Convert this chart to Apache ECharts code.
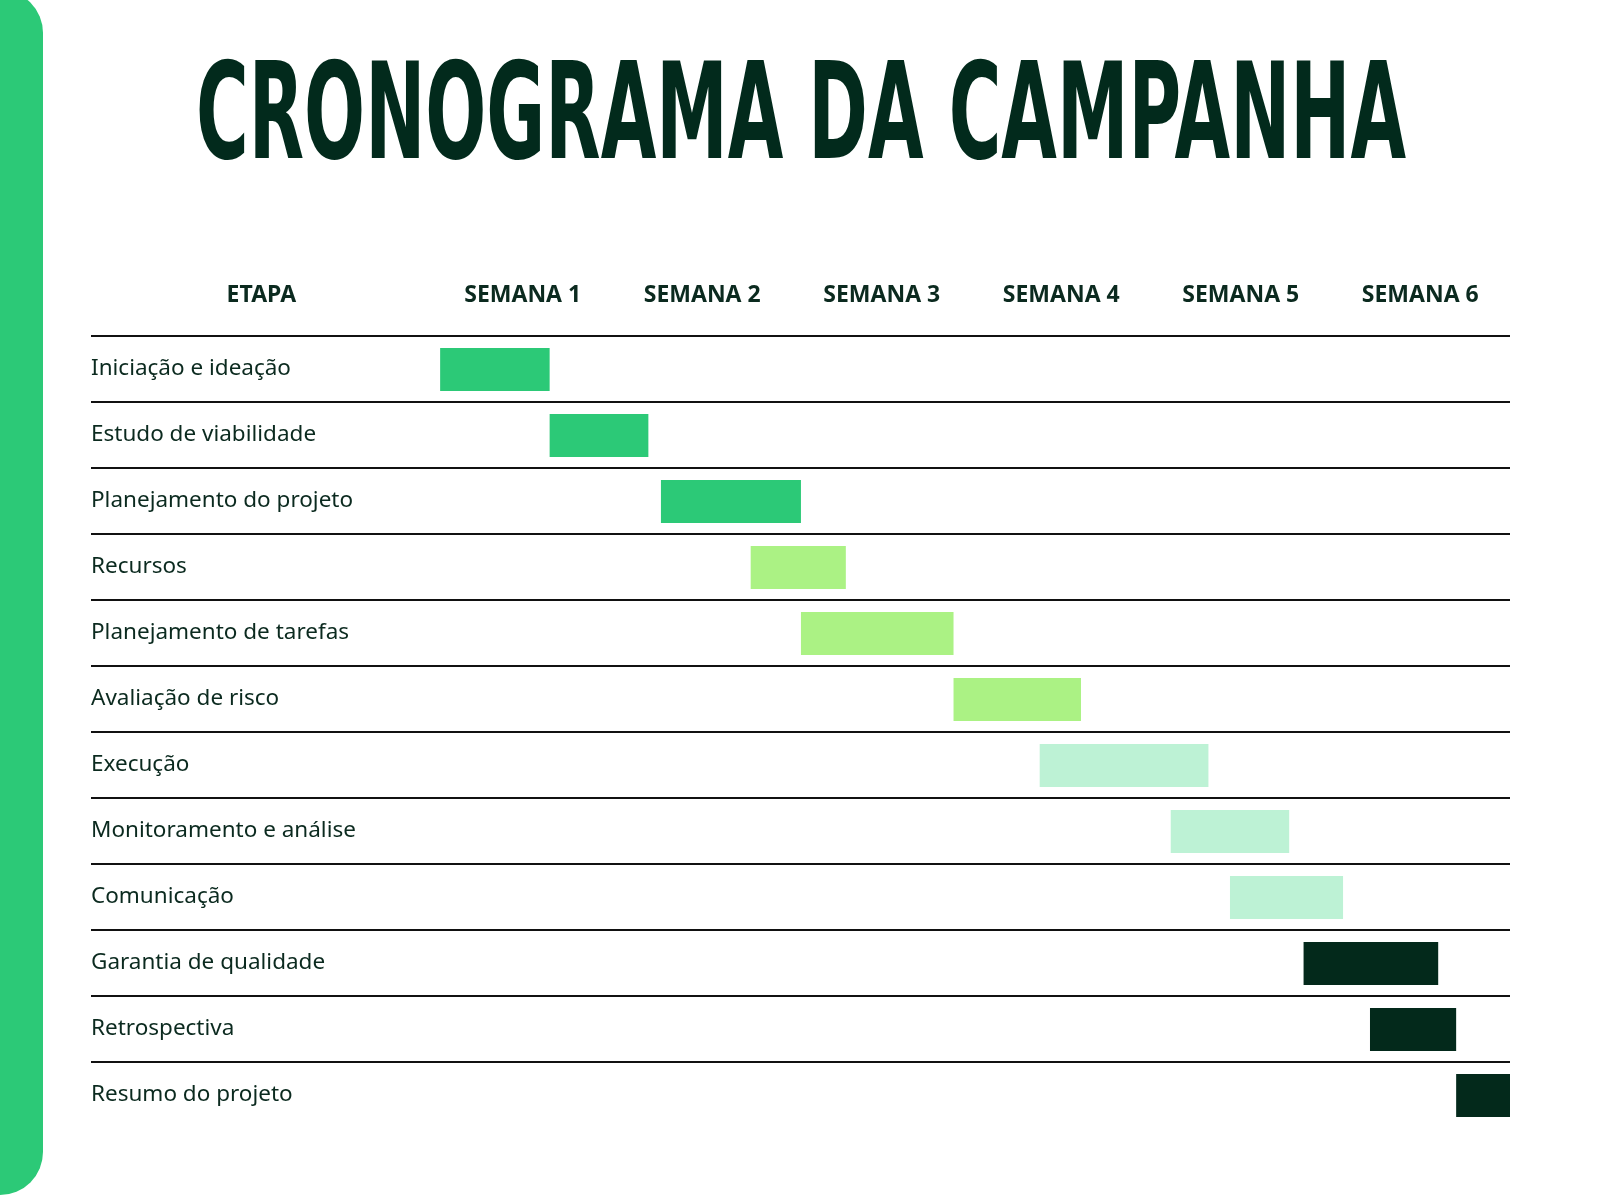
<!DOCTYPE html>
<html><head><meta charset="utf-8">
<script src="https://cdn.jsdelivr.net/npm/echarts@6/dist/echarts.min.js"></script>
<style>html,body{margin:0;background:#fff}#c{width:1600px;height:1200px}</style>
</head><body><div id="c"></div>
<script>
const etapas = ['Iniciação e ideação','Estudo de viabilidade','Planejamento do projeto','Recursos','Planejamento de tarefas','Avaliação de risco','Execução','Monitoramento e análise','Comunicação','Garantia de qualidade','Retrospectiva','Resumo do projeto']
// start / end in weeks (0 = start of week 1)
const inicio = [0.04,0.65,1.27,1.77,2.05,2.90,3.38,4.11,4.44,4.85,5.22,5.70]
const fim    = [0.65,1.20,2.05,2.30,2.90,3.61,4.32,4.77,5.07,5.60,5.70,6.00]
const grupo  = [0,0,0,1,1,1,2,2,2,3,3,3]
const cores  = ['#2cc977','#abf284','#bdf2d5','#03291b']
const semanas = ['SEMANA 1','SEMANA 2','SEMANA 3','SEMANA 4','SEMANA 5','SEMANA 6']
const xMin = -1.905

const chart = echarts.init(document.getElementById('c'))
const data = etapas.map((e,i) => [i, inicio[i], fim[i], grupo[i]])
const txt = '#0b2a1f'

chart.setOption({
  animation: false,
  grid: {left: 91, right: 90, top: 336, bottom: 72},
  xAxis: {type: 'value', min: xMin, max: 6, show: false},
  yAxis: {type: 'category', data: etapas, inverse: true, show: false},
  series: [{
    type: 'custom',
    data: data,
    encode: {x: [1,2], y: 0},
    renderItem: (params, api) => {
      const row = api.value(0)
      const c = api.coord([api.value(1), row])
      const e = api.coord([api.value(2), row])
      const h = api.size([0,1])[1]
      const left = api.coord([xMin, row])
      const right = api.coord([6, row])
      const top = c[1] - h/2
      const ch = [
        {type:'line', shape:{x1:left[0], y1:top, x2:right[0], y2:top}, style:{stroke:'#111', lineWidth:2}},
        {type:'rect', shape:{x:c[0], y:c[1]-21, width:e[0]-c[0], height:43}, style:{fill:cores[api.value(3)]}},
        {type:'text', x:left[0], y:c[1], style:{text:etapas[row], fill:txt, font:'22.5px "Noto Sans"', verticalAlign:'middle'}}
      ]
      return {type:'group', children:ch}
    }
  }]
})

const gy = 295
const hdr = [{type:'text', x: chart.convertToPixel({xAxisIndex:0}, -0.956), y: gy,
  style:{text:'ETAPA', fill:txt, font:'bold 23px "Noto Sans"', align:'center', verticalAlign:'middle'}}]
semanas.forEach((s,i) => hdr.push({type:'text', x: chart.convertToPixel({xAxisIndex:0}, i+0.5), y: gy,
  style:{text:s, fill:txt, font:'bold 23px "Noto Sans"', align:'center', verticalAlign:'middle'}}))

const titulo = 'CRONOGRAMA DA CAMPANHA'
const tFont = 'bold 134px "DejaVu Sans", sans-serif'
const ctx = document.createElement('canvas').getContext('2d')
ctx.font = tFont
const sx = 1210 / ctx.measureText(titulo).width

chart.setOption({graphic: [
  {type:'rect', shape:{x:-50, y:-10, width:93, height:1205, r:[0,43,43,0]}, style:{fill:'#2cc977'}},
  {type:'text', x:801, y:123, scaleX:sx,
    style:{text:titulo, fill:'#022a1c', font:tFont, align:'center', verticalAlign:'middle'}},
  ...hdr
]})
</script>
</body></html>
